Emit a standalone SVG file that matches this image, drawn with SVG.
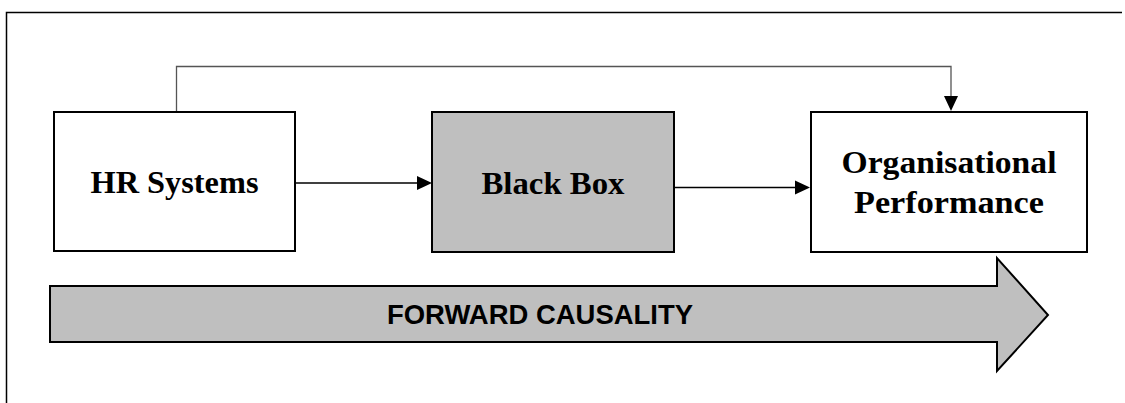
<svg xmlns="http://www.w3.org/2000/svg" width="1125" height="403" viewBox="0 0 1125 403">
<style>
.box{stroke:#000;stroke-width:2}
.conn{fill:none;stroke:#000;stroke-width:1.3}
.lbl{font-family:"Liberation Serif","Times New Roman",serif;font-weight:bold;font-size:31px;fill:#000;text-anchor:middle}
.big{font-family:"Liberation Sans",Arial,sans-serif;font-weight:bold;font-size:28px;fill:#000;text-anchor:middle}
</style>
<defs>
<marker id="ah" markerWidth="10" markerHeight="10" refX="10" refY="5" orient="auto" markerUnits="userSpaceOnUse" viewBox="0 0 10 10">
<path d="M0,0 L10,5 L0,10 Z" fill="#000"/>
</marker>
</defs>
<rect width="1125" height="403" fill="#fff"/>
<g id="frame">
<path d="M6.5,403 L6.5,12.5 L1122,12.5" fill="none" stroke="#000" stroke-width="1.5"/>
</g>
<g id="connectors">
<path class="conn" d="M176.5,112 L176.5,66.5 L951,66.5 L951,97" style="stroke:#555"/>
<path d="M944,96 L958,96 L951,111 Z" fill="#000"/>
<path class="conn" d="M295,183 L418,183"/>
<path d="M417,176 L432,183 L417,190 Z" fill="#000"/>
<path class="conn" d="M674,187.5 L796,187.5"/>
<path d="M795,180.5 L810,187.5 L795,194.5 Z" fill="#000"/>
</g>
<g id="hr-systems">
<rect class="box" x="54" y="112" width="241" height="139" fill="#fff"/>
<text class="lbl" x="174.5" y="193" textLength="168" lengthAdjust="spacingAndGlyphs">HR Systems</text>
</g>
<g id="black-box">
<rect class="box" x="432" y="112" width="242" height="140" fill="#bfbfbf"/>
<text class="lbl" x="553" y="194" textLength="143" lengthAdjust="spacingAndGlyphs">Black Box</text>
</g>
<g id="organisational-performance">
<rect class="box" x="811" y="112" width="276" height="140" fill="#fff"/>
<text class="lbl" x="949" y="173" textLength="215" lengthAdjust="spacingAndGlyphs">Organisational</text>
<text class="lbl" x="949" y="213" textLength="190" lengthAdjust="spacingAndGlyphs">Performance</text>
</g>
<g id="forward-causality">
<path class="box" d="M50,286 L997,286 L997,258 L1048,315 L997,371 L997,342 L50,342 Z" fill="#bfbfbf"/>
<text class="big" x="540" y="324" textLength="306" lengthAdjust="spacingAndGlyphs">FORWARD CAUSALITY</text>
</g>
</svg>
